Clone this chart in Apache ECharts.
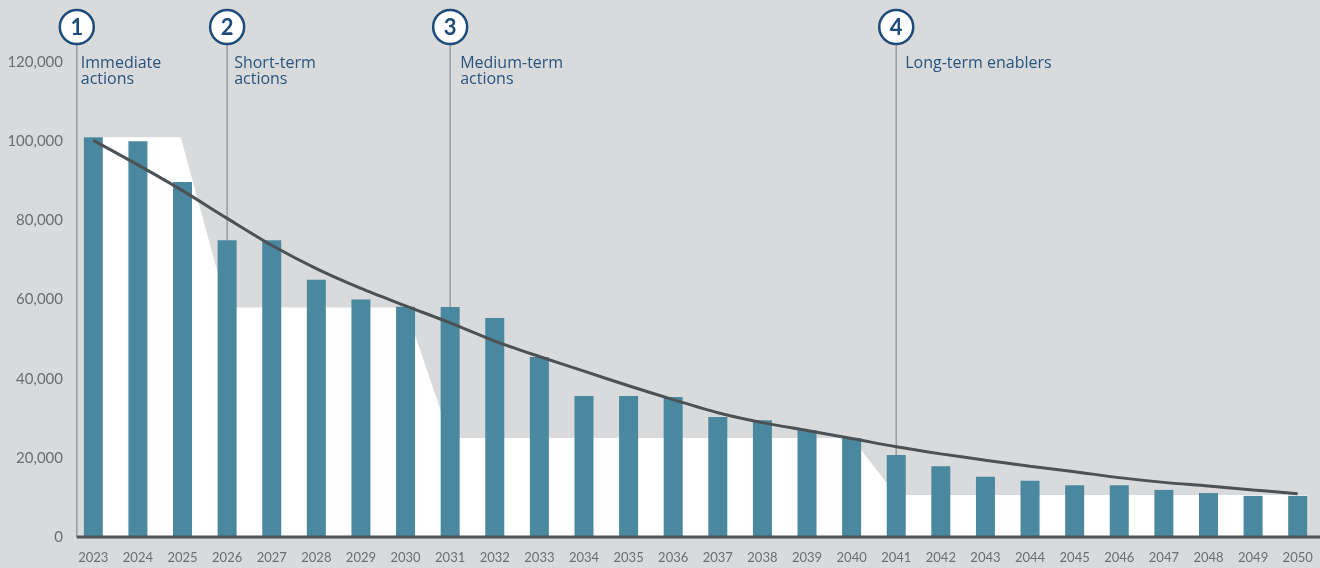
<!DOCTYPE html>
<html>
<head>
<meta charset="utf-8">
<script src="https://cdn.jsdelivr.net/npm/echarts@6/dist/echarts.min.js"></script>
<style>
html,body{margin:0;padding:0;background:#d9dadc;}
#chart{width:1320px;height:568px;}
</style>
</head>
<body>
<div id="chart"></div>
<script>
// ---- data ----
const years = ['2023','2024','2025','2026','2027','2028','2029','2030','2031','2032','2033','2034','2035','2036','2037','2038','2039','2040','2041','2042','2043','2044','2045','2046','2047','2048','2049','2050'];
const emissions = [101000,100000,89700,75000,75000,65000,60000,58200,58100,55300,45500,35600,35600,35400,30300,29500,27000,25000,20700,17900,15200,14200,13100,13100,11900,11100,10400,10400];
const trend = [100200,94000,87500,80500,73700,67800,62800,58400,54100,49500,45600,41900,38200,34700,31400,28900,26900,24900,22800,21000,19400,17900,16500,15000,13800,12900,11900,10900];
// stepped target envelope (x in category-index units)
const targetX = [-0.213, 1.96, 3, 7, 8, 17, 18, 27.213];
const targetY = [101000, 101000, 58000, 58000, 25000, 25000, 10600, 10600];
// phases
const phaseNumbers = ['1','2','3','4'];
const phaseLabels = ['Immediate\nactions','Short-term\nactions','Medium-term\nactions','Long-term enablers'];
const phasePos = [-0.37, 3, 8, 18];
const yMin = 0, yMax = 120000, yStep = 20000;

// ---- styles ----
const BG = '#d9dadc';
const BAR = '#4a88a0';
const CURVE = '#4b5154';
const NAVY = '#1d4c7a';
const LABEL = '#27547f';
const AXISTXT = '#6b6d70';
const FONT = 'Lato, "Open Sans", sans-serif';
const LFONT = '"Open Sans", Lato, sans-serif';
const labelOffset = [4, 7, 10, 9];

const chart = echarts.init(document.getElementById('chart'), null, {renderer: 'canvas'});

const targetData = targetX.map((x, i) => [x, targetY[i]]);

chart.setOption({
  backgroundColor: BG,
  animation: false,
  grid: {left: 71, top: 62, width: 1250, height: 475, containLabel: false},
  xAxis: [
    {
      type: 'category', data: years, boundaryGap: true,
      axisLine: {show: false}, axisTick: {show: false},
      axisLabel: {interval: 0, color: AXISTXT, fontSize: 13, fontFamily: FONT, margin: 14}
    },
    {
      type: 'value', min: -0.5, max: 27.5, show: false
    }
  ],
  yAxis: {
    type: 'value', min: yMin, max: yMax, interval: yStep,
    axisLine: {show: false}, axisTick: {show: false}, splitLine: {show: false},
    axisLabel: {color: AXISTXT, fontSize: 15, fontFamily: FONT, margin: 8,
      formatter: v => v.toLocaleString('en-US')}
  },
  series: [
    {
      type: 'line', xAxisIndex: 1, data: targetData, showSymbol: false, symbol: 'none',
      lineStyle: {width: 0, opacity: 0}, areaStyle: {color: '#ffffff', opacity: 1},
      z: 1, silent: true
    },
    {
      type: 'bar', data: emissions, barWidth: 19,
      itemStyle: {color: BAR}, z: 3
    },
    {
      type: 'line', data: trend, smooth: 0.3, showSymbol: false, symbol: 'none',
      lineStyle: {color: CURVE, width: 3}, z: 4
    }
  ]
});

function drawAnnotations() {
  const g = [];
  const y0 = chart.convertToPixel({yAxisIndex: 0}, 0);
  const xStart = chart.convertToPixel({xAxisIndex: 1}, phasePos[0]);
  // x axis baseline
  g.push({type: 'line', z: 5, shape: {x1: xStart, y1: y0, x2: 1320, y2: y0},
          style: {stroke: '#4d5357', lineWidth: 3}});
  const cy = 27, r = 17;
  phasePos.forEach((p, i) => {
    const x = chart.convertToPixel({xAxisIndex: 1}, p);
    g.push({type: 'line', z: 1, zlevel: 0,
            shape: {x1: x, y1: cy + r, x2: x, y2: y0},
            style: {stroke: '#9a9c9e', lineWidth: 1.5}});
    g.push({type: 'circle', z: 10, shape: {cx: x, cy: cy, r: r},
            style: {fill: '#ffffff', stroke: NAVY, lineWidth: 2.5}});
    g.push({type: 'text', z: 11, x: x, y: cy + 1,
            style: {text: phaseNumbers[i], fill: NAVY, font: 'bold 22px ' + FONT,
                    align: 'center', verticalAlign: 'middle'}});
    g.push({type: 'text', z: 11, x: x + labelOffset[i], y: 55,
            style: {text: phaseLabels[i], fill: LABEL, font: '16px ' + LFONT,
                    lineHeight: 16, align: 'left', verticalAlign: 'top'}});
  });
  chart.setOption({graphic: {elements: g}});
}
drawAnnotations();
</script>
</body>
</html>
